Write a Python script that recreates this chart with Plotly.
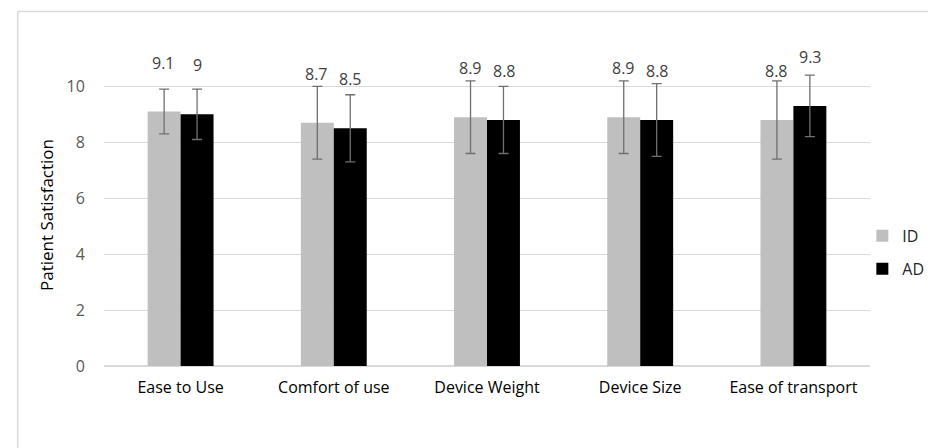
import plotly.graph_objects as go

categories = ["Ease to Use", "Comfort of use", "Device Weight", "Device Size", "Ease of transport"]
id_values = [9.1, 8.7, 8.9, 8.9, 8.8]
ad_values = [9.0, 8.5, 8.8, 8.8, 9.3]
id_err = [0.8, 1.3, 1.3, 1.3, 1.4]
ad_err = [0.9, 1.2, 1.2, 1.3, 1.1]
y_ticks = [0, 2, 4, 6, 8, 10]

FONT = "Open Sans"
err_style = dict(type="data", thickness=1.3, width=5, color="#6f6f6f")

fig = go.Figure()
fig.add_trace(go.Bar(
    name="ID", x=categories, y=id_values,
    marker=dict(color="#bfbfbf", line=dict(width=0)),
    error_y=dict(array=id_err, **err_style),
    legendgroup="ID",
))
fig.add_trace(go.Bar(
    name="AD", x=categories, y=ad_values,
    marker=dict(color="#000000", line=dict(width=0)),
    error_y=dict(array=ad_err, **err_style),
    legendgroup="AD",
))

# data labels
for i, c in enumerate(categories):
    for vals, shift in ((id_values, -17), (ad_values, 17)):
        v = vals[i]
        fig.add_annotation(
            x=c, y=v, xref="x", yref="y", text=("%g" % v),
            showarrow=False, xshift=shift, yshift=49,
            font=dict(family=FONT, size=16, color="#404040"),
        )

# chart border (left & top)
fig.add_shape(type="line", xref="paper", yref="paper", x0=-0.1127, x1=1.2, y0=1.174, y1=1.174,
              line=dict(color="#d9d9d9", width=1.5))
fig.add_shape(type="line", xref="paper", yref="paper", x0=-0.1127, x1=-0.1127, y0=-0.3, y1=1.174,
              line=dict(color="#d9d9d9", width=1.5))

fig.update_layout(
    width=928, height=440,
    margin=dict(l=96, r=66, t=56, b=82, autoexpand=False),
    paper_bgcolor="white", plot_bgcolor="white",
    barmode="group", bargap=0.57, bargroupgap=0,
    font=dict(family=FONT, color="#404040"),
    showlegend=True,
    legend=dict(x=0.99, xanchor="left", y=0.376, yanchor="middle",
                font=dict(size=16, color="#262626"),
                traceorder="grouped", tracegroupgap=9,
                bgcolor="rgba(0,0,0,0)"),
    xaxis=dict(
        type="category", showgrid=False, showline=False, zeroline=False,
        tickfont=dict(family=FONT, size=16, color="#000000"),
        ticks="outside", ticklen=7, tickcolor="rgba(0,0,0,0)",
    ),
    yaxis=dict(
        range=[0, 10.8], tickvals=y_ticks, showgrid=True, gridcolor="#d9d9d9", gridwidth=1.3,
        zeroline=True, zerolinecolor="#d9d9d9", zerolinewidth=1.5, showline=False,
        tickfont=dict(family=FONT, size=16, color="#595959"),
        ticks="outside", ticklen=15, tickcolor="rgba(0,0,0,0)",
        title=dict(text="Patient Satisfaction", font=dict(family=FONT, size=17, color="#000000"), standoff=8),
    ),
)
fig.update_traces(cliponaxis=False)

fig.write_html("out.html")
